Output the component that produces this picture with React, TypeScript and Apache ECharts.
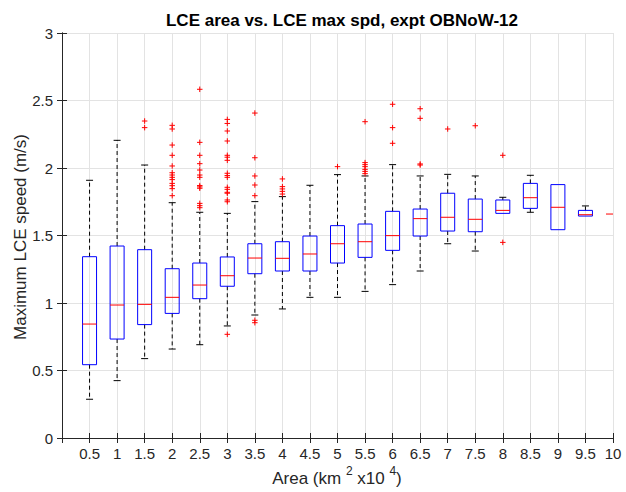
import React, { useEffect, useRef } from "react";
import * as echarts from "echarts";

const areas = [0.5, 1, 1.5, 2, 2.5, 3, 3.5, 4, 4.5, 5, 5.5, 6, 6.5, 7, 7.5, 8, 8.5, 9, 9.5, 10];
const lowWhisker = [0.287, 0.425, 0.588, 0.659, 0.691, 0.83, 0.911, 0.956, 1.042, 1.042, 1.086, 1.136, 1.237, 1.439, 1.385, 1.664, 1.672, 1.543, 1.644, 1.659];
const q1 = [0.543, 0.733, 0.84, 0.923, 1.032, 1.124, 1.217, 1.237, 1.237, 1.296, 1.338, 1.39, 1.496, 1.533, 1.528, 1.664, 1.701, 1.543, 1.644, 1.659];
const medians = [0.844, 0.985, 0.99, 1.042, 1.133, 1.202, 1.333, 1.331, 1.363, 1.439, 1.454, 1.499, 1.625, 1.635, 1.62, 1.686, 1.78, 1.709, 1.654, 1.659];
const q3 = [1.343, 1.422, 1.395, 1.254, 1.296, 1.341, 1.439, 1.454, 1.496, 1.573, 1.585, 1.679, 1.696, 1.813, 1.77, 1.763, 1.886, 1.877, 1.686, 1.659];
const highWhisker = [1.909, 2.205, 2.022, 1.743, 1.672, 1.664, 1.751, 1.788, 1.872, 1.951, 1.941, 2.025, 1.941, 1.953, 1.941, 1.783, 1.946, 1.877, 1.719, 1.659];

const outliers: [number, number][] = [
  [1.5, 2.348], [1.5, 2.299],
  [2, 2.316], [2, 2.289], [2, 2.17], [2, 2.094], [2, 2.015], [2, 1.965], [2, 1.948], [2, 1.931], [2, 1.914], [2, 1.886], [2, 1.869], [2, 1.847], [2, 1.795],
  [2.5, 2.583], [2.5, 2.19], [2.5, 2.094], [2.5, 2.032], [2.5, 1.985], [2.5, 1.948], [2.5, 1.931], [2.5, 1.87], [2.5, 1.86], [2.5, 1.85], [2.5, 1.738], [2.5, 1.721], [2.5, 1.706],
  [3, 2.36], [3, 2.33], [3, 2.274], [3, 2.2], [3, 2.094], [3, 2.08], [3, 2.057], [3, 1.961], [3, 1.944], [3, 1.931], [3, 1.857], [3, 1.842], [3, 1.82], [3, 1.813], [3, 1.763], [3, 1.75], [3, 0.768],
  [3.5, 2.407], [3.5, 2.076], [3.5, 1.941], [3.5, 1.874], [3.5, 1.795], [3.5, 0.872], [3.5, 0.854],
  [4, 1.919], [4, 1.862], [4, 1.845], [4, 1.827], [4, 1.807],
  [5, 2.01],
  [5.5, 2.343], [5.5, 2.04], [5.5, 2.025], [5.5, 2.01], [5.5, 1.99], [5.5, 1.975], [5.5, 1.958],
  [6, 2.472], [6, 2.299], [6, 2.183],
  [6.5, 2.439], [6.5, 2.368], [6.5, 2.03], [6.5, 2.022],
  [7, 2.289],
  [7.5, 2.313],
  [8, 2.094], [8, 1.449],
];

const yTicks = [0, 0.5, 1, 1.5, 2, 2.5, 3];

const FONT = "'Liberation Sans', Arial, Helvetica, sans-serif";
const AX = "#262626";

export default function App() {
  const ref = useRef<HTMLDivElement>(null);
  useEffect(() => {
    if (!ref.current) return;
    const chart = echarts.init(ref.current, undefined, { renderer: "svg" });
    const boxData = areas.map((a, i) => [a, lowWhisker[i], q1[i], medians[i], q3[i], highWhisker[i]]);
    const axisCommon = {
      type: "value" as const,
      axisLine: { show: true, lineStyle: { color: AX, width: 1 } },
      axisTick: { show: true, inside: true, length: 5, lineStyle: { color: AX } },
    };
    chart.setOption({
      animation: false,
      backgroundColor: "#ffffff",
      title: {
        text: "LCE area vs. LCE max spd, expt OBNoW-12",
        left: 337,
        textAlign: "center",
        top: 7,
        textStyle: { fontFamily: FONT, fontSize: 17, fontWeight: "bold", color: "#000" },
      },
      grid: { left: 62, right: 13, top: 33, bottom: 54, containLabel: false },
      xAxis: [
        {
          ...axisCommon,
          min: 0, max: 10, interval: 0.5,
          position: "bottom",
          axisLabel: {
            fontFamily: FONT, fontSize: 15, color: AX, margin: 8,
            formatter: (v: number) => (v === 0 ? "" : String(v)),
          },
          splitLine: { show: true, lineStyle: { color: "#e3e3e3", width: 1 } },
        },
        {
          ...axisCommon,
          min: 0, max: 10, interval: 0.5,
          position: "top",
          axisLabel: { show: false },
          splitLine: { show: false },
        },
      ],
      yAxis: [
        {
          ...axisCommon,
          min: 0, max: 3, interval: 0.5,
          position: "left",
          axisLabel: {
            fontFamily: FONT, fontSize: 15, color: AX, margin: 9,
            formatter: (v: number) => (yTicks.includes(v) ? String(v) : ""),
          },
          splitLine: { show: true, lineStyle: { color: "#e3e3e3", width: 1 } },
        },
        {
          ...axisCommon,
          min: 0, max: 3, interval: 0.5,
          position: "right",
          axisLabel: { show: false },
          splitLine: { show: false },
        },
      ],
      graphic: [
        {
          type: "text",
          x: 20,
          y: 237,
          rotation: Math.PI / 2,
          style: {
            text: "Maximum LCE speed (m/s)",
            fontFamily: FONT, fontSize: 17, fill: AX,
            align: "center", verticalAlign: "middle",
          },
        },
        {
          type: "text",
          x: 337,
          y: 476,
          style: {
            text: "{a|Area (km }{s|2}{a| x10 }{s|4}{a|)}",
            align: "center", verticalAlign: "middle",
            rich: {
              a: { fontFamily: FONT, fontSize: 17, fill: AX, lineHeight: 22, verticalAlign: "bottom" },
              s: { fontFamily: FONT, fontSize: 12, fill: AX, lineHeight: 12, verticalAlign: "top" },
            },
          },
        },
      ],
      series: [
        {
          type: "custom",
          xAxisIndex: 0,
          yAxisIndex: 0,
          clip: true,
          data: boxData,
          encode: { x: 0, y: [1, 2, 3, 4, 5] },
          renderItem: (params: any, api: any) => {
            const x = api.value(0);
            const pLo = api.coord([x, api.value(1)]);
            const pQ1 = api.coord([x, api.value(2)]);
            const pMed = api.coord([x, api.value(3)]);
            const pQ3 = api.coord([x, api.value(4)]);
            const pHi = api.coord([x, api.value(5)]);
            const cx = pMed[0];
            const half = 7;
            const cap = 3.5;
            const dash = { stroke: "#000", lineWidth: 1, lineDash: [4, 3] };
            const solid = { stroke: "#000", lineWidth: 1 };
            const children: any[] = [];
            if (pQ3[1] - pHi[1] > 0.5) {
              children.push({ type: "line", shape: { x1: cx, y1: pQ3[1], x2: cx, y2: pHi[1] }, style: dash });
              children.push({ type: "line", shape: { x1: cx - cap, y1: pHi[1], x2: cx + cap, y2: pHi[1] }, style: solid });
            }
            if (pLo[1] - pQ1[1] > 0.5) {
              children.push({ type: "line", shape: { x1: cx, y1: pQ1[1], x2: cx, y2: pLo[1] }, style: dash });
              children.push({ type: "line", shape: { x1: cx - cap, y1: pLo[1], x2: cx + cap, y2: pLo[1] }, style: solid });
            }
            if (pQ1[1] - pQ3[1] > 0.5) {
              children.push({
                type: "rect",
                shape: { x: cx - half, y: pQ3[1], width: half * 2, height: pQ1[1] - pQ3[1] },
                style: { fill: "none", stroke: "#0000ff", lineWidth: 1 },
              });
            }
            children.push({ type: "line", shape: { x1: cx - half, y1: pMed[1], x2: cx + half, y2: pMed[1] }, style: { stroke: "#ff0000", lineWidth: 1 } });
            return { type: "group", children };
          },
        },
        {
          type: "custom",
          xAxisIndex: 0,
          yAxisIndex: 0,
          clip: true,
          data: outliers,
          encode: { x: 0, y: 1 },
          renderItem: (params: any, api: any) => {
            const p = api.coord([api.value(0), api.value(1)]);
            const r = 2.75;
            const st = { stroke: "#ff0000", lineWidth: 1 };
            return {
              type: "group",
              children: [
                { type: "line", shape: { x1: p[0] - r, y1: p[1], x2: p[0] + r, y2: p[1] }, style: st },
                { type: "line", shape: { x1: p[0], y1: p[1] - r, x2: p[0], y2: p[1] + r }, style: st },
              ],
            };
          },
        },
      ],
    });
    return () => chart.dispose();
  }, []);
  return <div ref={ref} style={{ width: 626, height: 492, position: "absolute", left: 0, top: 0 }} />;
}
